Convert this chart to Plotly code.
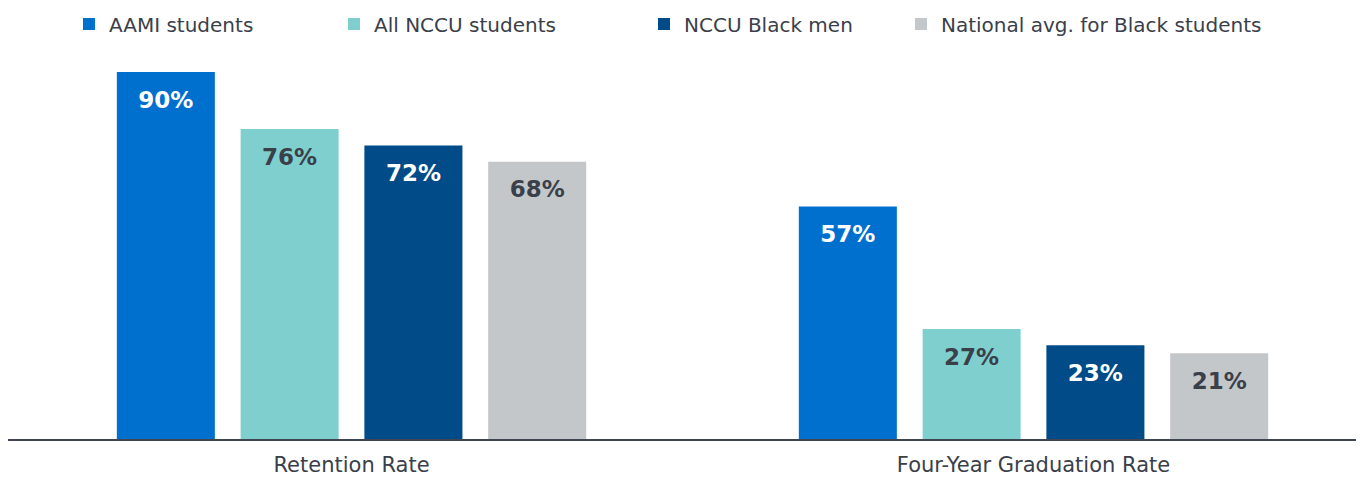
import plotly.graph_objects as go

categories = ["Retention Rate", "Four-Year Graduation Rate"]
series_names = ["AAMI students", "All NCCU students", "NCCU Black men", "National avg. for Black students"]
aami = [90, 57]
all_nccu = [76, 27]
nccu_black_men = [72, 23]
national_avg = [68, 21]

series_values = [aami, all_nccu, nccu_black_men, national_avg]
colors = ["#0070CE", "#80CFCF", "#004B88", "#C4C7CA"]
label_colors = ["#FFFFFF", "#3A404A", "#FFFFFF", "#3A404A"]
legend_ids = ["legend", "legend2", "legend3", "legend4"]
legend_x_px = [61, 326, 636, 893]

FONT = "DejaVu Sans"
W, H = 1356, 469

fig = go.Figure()
for i, (name, vals, col) in enumerate(zip(series_names, series_values, colors)):
    fig.add_trace(go.Bar(
        x=categories, y=vals, name=name,
        marker=dict(color=col, line=dict(width=0)),
        offsetgroup=str(i), legend=legend_ids[i],
        hoverinfo="skip",
    ))

# value labels, placed inside the top of each bar via grouped scatter
for i, (name, vals, lc) in enumerate(zip(series_names, series_values, label_colors)):
    fig.add_trace(go.Scatter(
        x=categories, y=vals, mode="markers+text",
        marker=dict(size=28, color="rgba(0,0,0,0)"),
        text=[f"{v}%" for v in vals],
        textposition="bottom center",
        textfont=dict(family=FONT, size=23, color=lc, weight="bold"),
        offsetgroup=str(i), showlegend=False, hoverinfo="skip",
        cliponaxis=False,
    ))

legend_common = dict(
    orientation="h", xref="container", yref="container",
    y=1 - 16/H, xanchor="left", yanchor="middle",
    font=dict(family=FONT, size=20, color="#3A404A"),
    itemclick=False, itemdoubleclick=False, bgcolor="rgba(0,0,0,0)",
)
legends = {lid: dict(legend_common, x=px / W) for lid, px in zip(legend_ids, legend_x_px)}

fig.update_layout(
    width=W, height=H,
    margin=dict(l=0, r=0, t=42, b=38, autoexpand=False),
    paper_bgcolor="white", plot_bgcolor="white",
    barmode="group", bargap=0.274, bargroupgap=0.208,
    scattermode="group", scattergap=0.274,
    font=dict(family=FONT, size=19, color="#3A404A"),
    xaxis=dict(
        type="category", range=[-0.5037, 1.4846],
        showline=True, linecolor="#3F4652", linewidth=2,
        showgrid=False, ticks="", zeroline=False, automargin=False,
        ticklabelstandoff=6,
        tickfont=dict(family=FONT, size=21, color="#3A404A"),
    ),
    yaxis=dict(range=[0, 95.39], visible=False, showgrid=False, zeroline=False, automargin=False),
    **legends,
)

fig.write_html("out.html")
